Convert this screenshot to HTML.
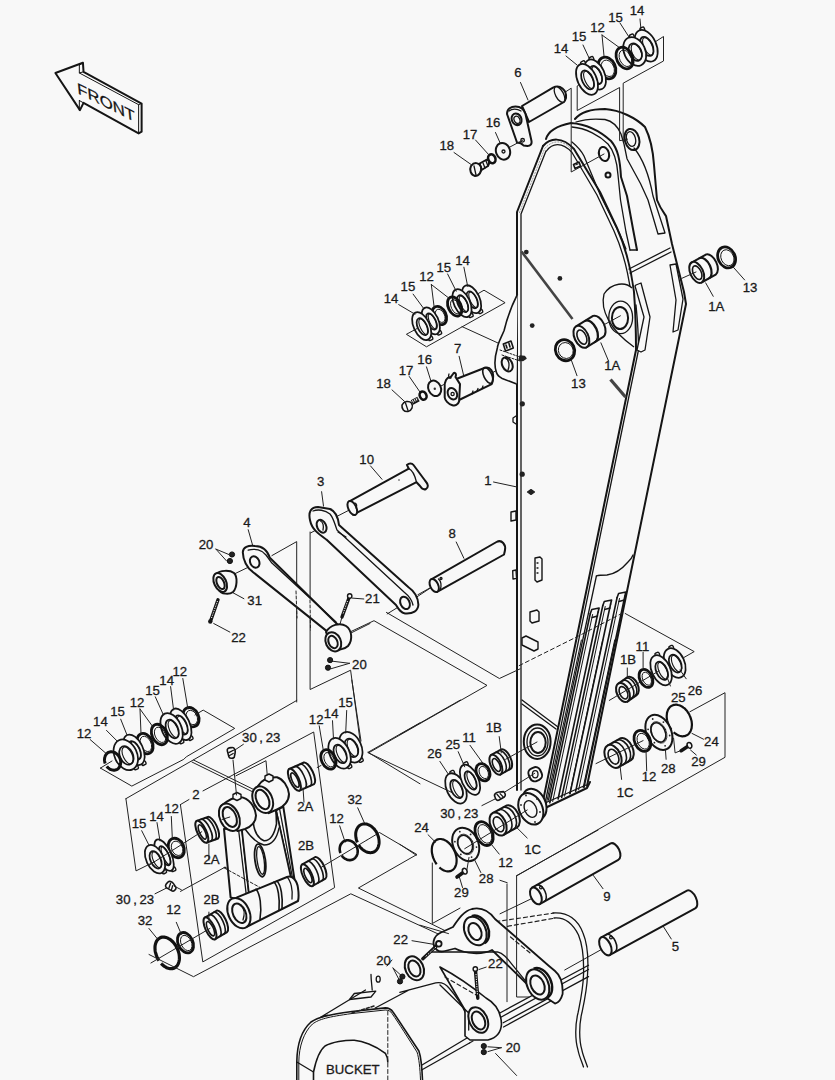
<!DOCTYPE html>
<html><head><meta charset="utf-8">
<style>
html,body{margin:0;padding:0;background:#f8f8f8;}
svg{display:block;}
svg *{vector-effect:non-scaling-stroke;}
.o{fill:none;stroke:#151515;stroke-width:2;stroke-linejoin:round;stroke-linecap:round;}
.t{fill:none;stroke:#222;stroke-width:1;stroke-linecap:round;}
.m{fill:none;stroke:#151515;stroke-width:1.3;stroke-linecap:round;stroke-linejoin:round;}
.w{fill:none;stroke:#fff;}
.f{fill:#f8f8f8;stroke:#151515;stroke-width:2;stroke-linejoin:round;}
.k{fill:none;stroke:#111;stroke-width:2.6;}
.lab text{font-family:"Liberation Sans",sans-serif;font-size:13.2px;fill:#1a1a1a;stroke:#1a1a1a;stroke-width:0.3;text-anchor:middle;}
</style></head><body>
<svg width="835" height="1080" viewBox="0 0 835 1080">
<rect width="835" height="1080" fill="#f8f8f8"/>
<g id="front">
<g transform="translate(50,55) scale(0.11976)">
<path class="f" d="M45,150 L275,65 L280,140 L765,405 L765,640 L740,655 L280,400 L250,460 Z"/>
<path class="o" d="M245,85 L245,150 L740,415 L740,655 M740,415 L765,405 M245,150 L280,140 M245,85 L275,65 M245,380 L245,460 M245,380 L280,400" style="stroke-width:1"/>
</g>
<text transform="matrix(1.29,0.65,0.12,1.2,77.8,93.2)" style="font-family:'Liberation Sans',sans-serif;font-size:13px;fill:#111;stroke:#111;stroke-width:0.3">FRONT</text>
</g>

<g id="boom">
<!-- left plate edges -->
<path class="o" d="M517,790 L517,212 L543,146"/>
<path class="m" d="M521,790 L521,214 L546,151"/>
<path d="M519.3,213 L544.7,148.5 C552,140 563,139 572,150" style="fill:none;stroke:#999;stroke-width:1;stroke-dasharray:2,1"/>
<!-- front face right edge (hat) -->
<path class="o" d="M543,146 C550,138 562,136 574,149 L600,192 L617,228 C625,246 631,268 634,292 C635.5,312 636,333 636,350 L542,806"/>
<path class="m" d="M546.5,151 C552,143 562,141.5 572,152.5 L597,195 L614,231 C622,249 628,270 631,294"/>
<path class="m" d="M636,305 C637.5,320 638.5,335 638.5,350 L544.5,806"/>
<!-- front ear top contour -->
<path class="o" d="M546,139 C548,132 556,126 571,123 C585,124 600,131 611,141 C618,149 620,160 621,177 L627,196 L633,229 L637,250"/>
<path class="m" d="M572,127 C586,128 600,136 608,144 C614,151 617,160 618,175 L620.5,200 L626,232 L630,250"/>
<path class="m" d="M572,142 C578,147 582,152 584,156 L600.6,195.8 L619.8,234.1 L626,249"/>
<path class="m" d="M630,250 L637,250"/>
<!-- rear ear -->
<path class="o" d="M575,119 C580,113 590,109 605,109 C620,110 636,118 645,127 C650,137 653,150 654,165 L657,200 C660,208 664,213 666,216 L672,244 L684,292 L686,304 L587,786"/>
<path class="m" d="M576,122 C585,119 595,118.5 605,119.5 C612,121 618,127 621,134 L624,144 L627,158.7 L640.6,183.8 L648,200 L658,234 M634,148 C644,160 650,180 653,196 L665,233 M658,234 L665,233"/>
<ellipse class="o" cx="632" cy="139.5" rx="7.2" ry="10.8" transform="rotate(-15 632 139.5)"/>
<ellipse class="m" cx="631" cy="139" rx="4.5" ry="7.5" transform="rotate(-15 631 139)"/>
<ellipse class="o" cx="604" cy="154" rx="5" ry="7.2" transform="rotate(-15 604 154)"/>
<circle class="o" cx="608" cy="175" r="2.5"/>
<!-- side face band -->
<path class="m" d="M629,269 L670,248 M630,273 L671,252"/>
<!-- 1A boss plate -->
<path class="f" style="stroke-width:1.3" d="M632,288 C626,282 612,282 604,294 C600,310 610,330 634,347"/>
<ellipse class="m" cx="620.7" cy="317.4" rx="11.9" ry="16.3"/>
<ellipse class="o" cx="620" cy="318" rx="8.1" ry="11.1"/>
<!-- side strips -->
<path class="f" style="stroke-width:1.3" d="M636,285 L641,283 L650,317 L645,350 L641,352 L637,350 L644,317 L635,286 Z"/>
<path class="f" style="stroke-width:1.3" d="M670,265 L676,264 L683,299 L678,330 L673,332 L676,300 Z"/>
<!-- cover plate curve and ribs -->
<path class="m" d="M596.4,576 C599,575 603,575 607,575 C615,574 622,569 628,562 C630,560 632,558 633,555"/>
<!-- bottom plate -->
<path class="o" d="M543,809 L587,788 L590,782"/>
<path class="m" d="M545,803 L586,785"/>
<!-- cross line -->
<path class="m" d="M522,700 L558,727 M522,704 L556,729"/>
<!-- 1B boss -->
<ellipse class="f" cx="537.2" cy="741.7" rx="13.4" ry="17.3"/>
<ellipse class="m" cx="537.5" cy="742" rx="10.5" ry="14"/>
<ellipse class="o" cx="538" cy="742.5" rx="7.7" ry="10.5"/>
<!-- small boss -->
<rect class="o" x="529" y="767.5" width="12.5" height="13.5" rx="5" transform="rotate(-25 535.2 774.3)"/><ellipse class="m" cx="535.2" cy="774.3" rx="2.8" ry="3.6"/>
<!-- bottom flange -->
<ellipse class="f" cx="534.5" cy="804" rx="11" ry="16" transform="rotate(-25 534.5 804)"/>
<ellipse class="f" cx="530.8" cy="808.8" rx="11.5" ry="16.5" transform="rotate(-25 530.8 808.8)"/>
<ellipse class="m" style="stroke-width:1.4" cx="530.5" cy="809" rx="5.8" ry="8.8" transform="rotate(-25 530.5 809)"/>
<circle cx="526" cy="795.5" r="0.9" fill="#222"/><circle cx="537" cy="799" r="0.9" fill="#222"/><circle cx="540" cy="812" r="0.9" fill="#222"/><circle cx="535" cy="822" r="0.9" fill="#222"/><circle cx="523" cy="818" r="0.9" fill="#222"/><circle cx="521" cy="805" r="0.9" fill="#222"/>
</g>

<g id="ribs">
<path class="o" style="stroke-width:1.6" d="M590.3,613.5 L549.8,802.8"/>
<path class="m" style="stroke-width:1.0" d="M592.6,614.5 L552.7,801.5"/>
<path class="o" style="stroke-width:1.6" d="M598.1,612.0 L558.1,799.0"/>
<path class="m" style="stroke-width:1.6" d="M590.3,613.5 L591.8,609.5 L599.1,608.0 L598.1,612.0"/>
<path class="m" d="M592.1,617.5 L597.6,616.0"/>
<path class="o" style="stroke-width:1.6" d="M602.8,605.5 L561.7,797.4"/>
<path class="m" style="stroke-width:1.0" d="M605.2,606.5 L564.6,796.1"/>
<path class="o" style="stroke-width:1.6" d="M610.6,604.0 L570.0,793.6"/>
<path class="m" style="stroke-width:1.6" d="M602.8,605.5 L604.3,601.5 L611.6,600.0 L610.6,604.0"/>
<path class="m" d="M604.6,609.5 L610.1,608.0"/>
<path class="o" style="stroke-width:1.6" d="M617.1,597.5 L575.7,791.1"/>
<path class="m" style="stroke-width:1.0" d="M619.5,598.5 L578.6,789.8"/>
<path class="o" style="stroke-width:1.6" d="M624.9,596.0 L584.0,787.3"/>
<path class="m" style="stroke-width:1.6" d="M617.1,597.5 L618.6,593.5 L625.9,592.0 L624.9,596.0"/>
<path class="m" d="M618.9,601.5 L624.4,600.0"/>
<path class="m" style="stroke-width:1.0" d="M581.4,640.0 L546.2,804.4"/>
<path class="m" style="stroke-width:1.0" d="M602.7,640.0 L569.8,793.7"/>
<path class="m" style="stroke-width:1.0" d="M614.7,640.0 L583.1,787.7"/>
<path class="m" d="M596.4,576 L548.5,800"/>
</g>

<g id="top">
<!-- bracket lines -->
<path class="t" d="M565.7,91.8 L571.2,88.2 L571.2,172 L604,154"/>
<path class="t" d="M585,80.3 L577.2,86 L577.2,110.5 L619.6,87.5 L619.6,140.7 L627.5,139.2 M623.2,140.7 L623.2,83.2 L663.5,61 L663.5,36.5 L655,42"/>
<path class="t" d="M578.7,84.6 L586.6,80.3"/>
<!-- part 6 pin -->
<path class="f" d="M522,106 L553,87.6 C560,84 567,90 566,98 C565,101 564,102 564,102 L529,122 Z"/>
<ellipse class="m" cx="559.5" cy="94.5" rx="4" ry="8.5" transform="rotate(-28 559.5 94.5)" style="fill:#f8f8f8"/>
<path class="f" d="M507,114 C507,109 511,106.5 515.5,106.5 C520,106.5 524,109 525.5,114 L531.5,141 C532,144 530.5,146 527.5,146 L523.5,145.5 C522,143.5 520,142.5 517,142.5 Z"/>
<path class="m" d="M509,111 C512,108.5 517,108.5 521,111"/>
<ellipse class="o" cx="516.6" cy="119.3" rx="4.8" ry="6" transform="rotate(-25 516.6 119.3)"/>
<ellipse class="m" cx="517" cy="119.8" rx="2.8" ry="3.8" transform="rotate(-25 517 119.8)"/>
<circle class="m" cx="522.6" cy="140.3" r="1.8"/>
<!-- 16 17 18 -->
<path class="t" d="M509,147.5 L522.6,140.3"/>
<ellipse class="f" cx="503" cy="151.3" rx="7" ry="8.5" transform="rotate(-20 503 151.3)"/>
<circle class="m" cx="503.5" cy="151.5" r="1.5"/>
<ellipse class="k" cx="491.8" cy="158.8" rx="3.6" ry="4.6" transform="rotate(-20 491.8 158.8)" style="stroke-width:2.6"/>
<path class="f" d="M477,165 L486,160 C489,159 490,163 488,166 L480,171 Z"/>
<path class="m" d="M480,164 L482,169 M483,163 L485,168 M486,161 L488,166"/>
<path class="f" d="M471,166 C474,162 479,162 481,167 C482,172 479,176 475,176 C471,175 469,170 471,166 Z"/>
<path class="m" d="M474,166 L476,175"/>
<!-- leaders -->
<path class="t" d="M454,152.5 L471.8,165 M475.5,140 L489,155 M495.5,132.5 L500.5,143.8 M520.5,82.5 L528,100"/>
<path class="t" d="M566,56 L577,65 M583,45 L590,60 M602,35 L604,56 M602,35 L620,48 M620,23 L629,37 M640,19 L641,30"/>
</g>

<g id="rings">
<g transform="rotate(-25 642.8 30.3)"><rect class="f" style="stroke-width:1.4" x="640.6" y="27.3" width="4.4" height="3.8" rx="1.2"/></g>
<ellipse class="f" cx="646.2" cy="45.8" rx="10.0" ry="16.8" transform="rotate(-25 646.2 45.8)" style="stroke-width:1.75"/>
<ellipse class="o" cx="646.8" cy="46.4" rx="5.8" ry="10.2" transform="rotate(-25 646.8 46.4)" style="stroke-width:1.75"/>
<ellipse class="m" cx="648.0" cy="46.4" rx="4.1" ry="9.5" transform="rotate(-25 648.0 46.4)" style="stroke-width:1.1"/>
<g transform="rotate(-25 632.2 37.3)"><rect class="f" style="stroke-width:1.4" x="630.0" y="34.3" width="4.4" height="3.8" rx="1.2"/></g>
<ellipse class="f" cx="634.7" cy="51.5" rx="10.6" ry="15.1" transform="rotate(-25 634.7 51.5)" style="stroke-width:1.75"/>
<ellipse class="o" cx="635.3" cy="52.1" rx="6.1" ry="9.2" transform="rotate(-25 635.3 52.1)" style="stroke-width:1.75"/>
<ellipse class="m" cx="636.5" cy="52.1" rx="4.3" ry="8.6" transform="rotate(-25 636.5 52.1)" style="stroke-width:1.1"/>
<ellipse class="k" cx="624.6" cy="58.0" rx="7.9" ry="11.3" transform="rotate(-25 624.6 58.0)" style="stroke-width:2.8"/>
<ellipse class="m" cx="625.4" cy="58.3" rx="5.7" ry="8.7" transform="rotate(-25 625.4 58.3)" style="stroke-width:1"/>
<ellipse class="k" cx="607.0" cy="68.0" rx="8.4" ry="11.2" transform="rotate(-25 607.0 68.0)" style="stroke-width:2.8"/>
<ellipse class="m" cx="607.8" cy="68.3" rx="6.2" ry="8.6" transform="rotate(-25 607.8 68.3)" style="stroke-width:1"/>
<g transform="rotate(-25 591.9 59.8)"><rect class="f" style="stroke-width:1.4" x="589.7" y="56.8" width="4.4" height="3.8" rx="1.2"/></g>
<ellipse class="f" cx="595.2" cy="74.5" rx="9.3" ry="16.0" transform="rotate(-25 595.2 74.5)" style="stroke-width:1.75"/>
<ellipse class="o" cx="595.8" cy="75.1" rx="5.4" ry="9.7" transform="rotate(-25 595.8 75.1)" style="stroke-width:1.75"/>
<ellipse class="m" cx="597.0" cy="75.1" rx="3.8" ry="9.1" transform="rotate(-25 597.0 75.1)" style="stroke-width:1.1"/>
<g transform="rotate(-25 583.5 64.1)"><rect class="f" style="stroke-width:1.4" x="581.3" y="61.1" width="4.4" height="3.8" rx="1.2"/></g>
<ellipse class="f" cx="587.0" cy="79.3" rx="9.4" ry="16.5" transform="rotate(-25 587.0 79.3)" style="stroke-width:1.75"/>
<ellipse class="o" cx="587.6" cy="79.9" rx="5.4" ry="10.1" transform="rotate(-25 587.6 79.9)" style="stroke-width:1.75"/>
<ellipse class="m" cx="588.8" cy="79.9" rx="3.8" ry="9.4" transform="rotate(-25 588.8 79.9)" style="stroke-width:1.1"/>
<g transform="rotate(-25 479.9 310.4)"><rect class="f" style="stroke-width:1.4" x="477.7" y="309.6" width="4.4" height="3.8" rx="1.2"/></g>
<ellipse class="f" cx="471.6" cy="299.2" rx="8.0" ry="14.9" transform="rotate(-25 471.6 299.2)" style="stroke-width:1.75"/>
<ellipse class="o" cx="472.2" cy="299.8" rx="4.6" ry="9.1" transform="rotate(-25 472.2 299.8)" style="stroke-width:1.75"/>
<ellipse class="m" cx="473.4" cy="299.8" rx="3.3" ry="8.5" transform="rotate(-25 473.4 299.8)" style="stroke-width:1.1"/>
<g transform="rotate(-25 470.3 314.3)"><rect class="f" style="stroke-width:1.4" x="468.1" y="313.5" width="4.4" height="3.8" rx="1.2"/></g>
<ellipse class="f" cx="462.0" cy="303.1" rx="8.0" ry="14.9" transform="rotate(-25 462.0 303.1)" style="stroke-width:1.75"/>
<ellipse class="o" cx="462.6" cy="303.7" rx="4.6" ry="9.1" transform="rotate(-25 462.6 303.7)" style="stroke-width:1.75"/>
<ellipse class="m" cx="463.8" cy="303.7" rx="3.3" ry="8.5" transform="rotate(-25 463.8 303.7)" style="stroke-width:1.1"/>
<ellipse class="k" cx="454.7" cy="306.5" rx="6.4" ry="10.2" transform="rotate(-25 454.7 306.5)" style="stroke-width:2.8"/>
<ellipse class="m" cx="455.5" cy="306.8" rx="4.2" ry="7.6" transform="rotate(-25 455.5 306.8)" style="stroke-width:1"/>
<ellipse class="k" cx="439.4" cy="315.5" rx="6.6" ry="9.6" transform="rotate(-25 439.4 315.5)" style="stroke-width:2.8"/>
<ellipse class="m" cx="440.2" cy="315.8" rx="4.4" ry="7.0" transform="rotate(-25 440.2 315.8)" style="stroke-width:1"/>
<g transform="rotate(-25 438.8 331.8)"><rect class="f" style="stroke-width:1.4" x="436.6" y="331.0" width="4.4" height="3.8" rx="1.2"/></g>
<ellipse class="f" cx="430.8" cy="320.9" rx="7.5" ry="14.4" transform="rotate(-25 430.8 320.9)" style="stroke-width:1.75"/>
<ellipse class="o" cx="431.4" cy="321.5" rx="4.3" ry="8.8" transform="rotate(-25 431.4 321.5)" style="stroke-width:1.75"/>
<ellipse class="m" cx="432.6" cy="321.5" rx="3.0" ry="8.2" transform="rotate(-25 432.6 321.5)" style="stroke-width:1.1"/>
<g transform="rotate(-25 430.0 337.3)"><rect class="f" style="stroke-width:1.4" x="427.8" y="336.5" width="4.4" height="3.8" rx="1.2"/></g>
<ellipse class="f" cx="421.7" cy="326.1" rx="8.0" ry="14.9" transform="rotate(-25 421.7 326.1)" style="stroke-width:1.75"/>
<ellipse class="o" cx="422.3" cy="326.7" rx="4.6" ry="9.1" transform="rotate(-25 422.3 326.7)" style="stroke-width:1.75"/>
<ellipse class="m" cx="423.5" cy="326.7" rx="3.3" ry="8.5" transform="rotate(-25 423.5 326.7)" style="stroke-width:1.1"/>
<ellipse class="k" cx="191.0" cy="717.2" rx="7.6" ry="10.1" transform="rotate(-25 191.0 717.2)" style="stroke-width:2.8"/>
<ellipse class="m" cx="191.8" cy="717.5" rx="5.4" ry="7.5" transform="rotate(-25 191.8 717.5)" style="stroke-width:1"/>
<g transform="rotate(-25 190.2 737.1)"><rect class="f" style="stroke-width:1.4" x="188.0" y="736.3" width="4.4" height="3.8" rx="1.2"/></g>
<ellipse class="f" cx="180.8" cy="724.3" rx="8.8" ry="16.9" transform="rotate(-25 180.8 724.3)" style="stroke-width:1.75"/>
<ellipse class="o" cx="181.4" cy="724.9" rx="5.1" ry="10.3" transform="rotate(-25 181.4 724.9)" style="stroke-width:1.75"/>
<ellipse class="m" cx="182.6" cy="724.9" rx="3.6" ry="9.6" transform="rotate(-25 182.6 724.9)" style="stroke-width:1.1"/>
<g transform="rotate(-25 181.0 740.5)"><rect class="f" style="stroke-width:1.4" x="178.8" y="739.7" width="4.4" height="3.8" rx="1.2"/></g>
<ellipse class="f" cx="171.6" cy="728.4" rx="9.8" ry="16.3" transform="rotate(-25 171.6 728.4)" style="stroke-width:1.75"/>
<ellipse class="o" cx="172.2" cy="729.0" rx="5.7" ry="9.9" transform="rotate(-25 172.2 729.0)" style="stroke-width:1.75"/>
<ellipse class="m" cx="173.4" cy="729.0" rx="4.0" ry="9.2" transform="rotate(-25 173.4 729.0)" style="stroke-width:1.1"/>
<ellipse class="k" cx="159.4" cy="734.5" rx="7.4" ry="10.7" transform="rotate(-25 159.4 734.5)" style="stroke-width:2.8"/>
<ellipse class="m" cx="160.2" cy="734.8" rx="5.2" ry="8.1" transform="rotate(-25 160.2 734.8)" style="stroke-width:1"/>
<ellipse class="k" cx="145.1" cy="743.6" rx="7.4" ry="10.7" transform="rotate(-25 145.1 743.6)" style="stroke-width:2.8"/>
<ellipse class="m" cx="145.9" cy="743.9" rx="5.2" ry="8.1" transform="rotate(-25 145.9 743.9)" style="stroke-width:1"/>
<g transform="rotate(-25 143.2 762.1)"><rect class="f" style="stroke-width:1.4" x="141.0" y="761.3" width="4.4" height="3.8" rx="1.2"/></g>
<ellipse class="f" cx="134.0" cy="749.8" rx="9.0" ry="16.3" transform="rotate(-25 134.0 749.8)" style="stroke-width:1.75"/>
<ellipse class="o" cx="134.6" cy="750.4" rx="5.2" ry="10.0" transform="rotate(-25 134.6 750.4)" style="stroke-width:1.75"/>
<ellipse class="m" cx="135.8" cy="750.4" rx="3.7" ry="9.3" transform="rotate(-25 135.8 750.4)" style="stroke-width:1.1"/>
<g transform="rotate(-25 135.6 766.5)"><rect class="f" style="stroke-width:1.4" x="133.4" y="765.7" width="4.4" height="3.8" rx="1.2"/></g>
<ellipse class="f" cx="125.8" cy="754.8" rx="11.2" ry="16.1" transform="rotate(-25 125.8 754.8)" style="stroke-width:1.75"/>
<ellipse class="o" cx="126.4" cy="755.4" rx="6.5" ry="9.8" transform="rotate(-25 126.4 755.4)" style="stroke-width:1.75"/>
<ellipse class="m" cx="127.6" cy="755.4" rx="4.5" ry="9.1" transform="rotate(-25 127.6 755.4)" style="stroke-width:1.1"/>
<path class="k" style="stroke-width:3.0" d="M105.2,763.5 L105.0,762.9 L104.8,762.3 L104.7,761.6 L104.6,761.0 L104.5,760.3 L104.5,759.7 L104.5,759.1 L104.6,758.4 L104.7,757.8 L104.8,757.2 L105.0,756.7 L105.2,756.1 L105.4,755.6 L105.7,755.1 L106.0,754.6 L106.3,754.2 L106.7,753.7 L107.1,753.4 L107.5,753.0 L108.0,752.7 L108.5,752.5 L109.0,752.2 L109.5,752.1 L110.0,751.9 L110.6,751.8 L111.1,751.8 L111.7,751.8 L112.2,751.9 L112.8,751.9 L113.4,752.1 L113.9,752.3 L114.5,752.5 L115.0,752.7 L115.5,753.0 L116.1,753.4 L116.6,753.8 L117.1,754.2 L117.5,754.6 L118.0,755.1 L118.4,755.6 L118.7,756.1 L119.1,756.7 L119.4,757.3 L119.7,757.9 L120.0,758.5 L120.2,759.1 L120.4,759.7 L120.5,760.4 L120.6,761.0 L120.7,761.7 L120.7,762.3 L120.7,762.9 L120.6,763.6 L120.5,764.2 L120.4,764.8 L120.2,765.3 L120.0,765.9 L119.8,766.4 L119.5,766.9 L119.2,767.4 L118.9,767.8 L118.5,768.3 L118.1,768.6 L117.7,769.0 L117.2,769.3 L116.7,769.5 L116.2,769.8 L115.7,769.9 L115.2,770.1 L114.6,770.2 L114.1,770.2 L113.5,770.2 L113.0,770.1 L112.4,770.1 L111.8,769.9 L111.3,769.7 L110.7,769.5 L110.2,769.3 L109.7,769.0 L109.1,768.6 L108.6,768.2 L108.1,767.8 L107.7,767.4 L107.2,766.9 L106.8,766.4"/>
<g transform="rotate(-25 360.4 759.1)"><rect class="f" style="stroke-width:1.4" x="358.2" y="758.3" width="4.4" height="3.8" rx="1.2"/></g>
<ellipse class="f" cx="350.8" cy="747.2" rx="10.5" ry="16.2" transform="rotate(-25 350.8 747.2)" style="stroke-width:1.75"/>
<ellipse class="o" cx="351.4" cy="747.8" rx="6.1" ry="9.8" transform="rotate(-25 351.4 747.8)" style="stroke-width:1.75"/>
<ellipse class="m" cx="352.6" cy="747.8" rx="4.3" ry="9.2" transform="rotate(-25 352.6 747.8)" style="stroke-width:1.1"/>
<g transform="rotate(-25 349.0 765.4)"><rect class="f" style="stroke-width:1.4" x="346.8" y="764.6" width="4.4" height="3.8" rx="1.2"/></g>
<ellipse class="f" cx="339.6" cy="753.3" rx="9.8" ry="16.3" transform="rotate(-25 339.6 753.3)" style="stroke-width:1.75"/>
<ellipse class="o" cx="340.2" cy="753.9" rx="5.7" ry="9.9" transform="rotate(-25 340.2 753.9)" style="stroke-width:1.75"/>
<ellipse class="m" cx="341.4" cy="753.9" rx="4.0" ry="9.2" transform="rotate(-25 341.4 753.9)" style="stroke-width:1.1"/>
<ellipse class="k" cx="328.4" cy="759.4" rx="6.9" ry="10.2" transform="rotate(-25 328.4 759.4)" style="stroke-width:2.8"/>
<ellipse class="m" cx="329.2" cy="759.7" rx="4.7" ry="7.6" transform="rotate(-25 329.2 759.7)" style="stroke-width:1"/>
<ellipse class="k" cx="176.3" cy="848.0" rx="7.6" ry="10.1" transform="rotate(-25 176.3 848.0)" style="stroke-width:2.8"/>
<ellipse class="m" cx="177.1" cy="848.3" rx="5.4" ry="7.5" transform="rotate(-25 177.1 848.3)" style="stroke-width:1"/>
<g transform="rotate(-25 173.0 868.3)"><rect class="f" style="stroke-width:1.4" x="170.8" y="867.5" width="4.4" height="3.8" rx="1.2"/></g>
<ellipse class="f" cx="164.1" cy="855.1" rx="7.1" ry="17.1" transform="rotate(-25 164.1 855.1)" style="stroke-width:1.75"/>
<ellipse class="o" cx="164.7" cy="855.7" rx="4.1" ry="10.4" transform="rotate(-25 164.7 855.7)" style="stroke-width:1.75"/>
<ellipse class="m" cx="165.9" cy="855.7" rx="2.9" ry="9.7" transform="rotate(-25 165.9 855.7)" style="stroke-width:1.1"/>
<g transform="rotate(-25 163.7 870.6)"><rect class="f" style="stroke-width:1.4" x="161.5" y="869.8" width="4.4" height="3.8" rx="1.2"/></g>
<ellipse class="f" cx="155.0" cy="859.2" rx="8.7" ry="15.2" transform="rotate(-25 155.0 859.2)" style="stroke-width:1.75"/>
<ellipse class="o" cx="155.6" cy="859.8" rx="5.1" ry="9.3" transform="rotate(-25 155.6 859.8)" style="stroke-width:1.75"/>
<ellipse class="m" cx="156.8" cy="859.8" rx="3.5" ry="8.7" transform="rotate(-25 156.8 859.8)" style="stroke-width:1.1"/>
<ellipse class="k" cx="185.5" cy="942.7" rx="7.4" ry="10.7" transform="rotate(-25 185.5 942.7)" style="stroke-width:2.8"/>
<ellipse class="m" cx="186.3" cy="943.0" rx="5.2" ry="8.1" transform="rotate(-25 186.3 943.0)" style="stroke-width:1"/>
<path class="k" style="stroke-width:3.2" d="M158.9,960.6 L158.3,959.6 L157.8,958.6 L157.2,957.5 L156.8,956.5 L156.4,955.4 L156.0,954.3 L155.7,953.2 L155.4,952.1 L155.2,951.0 L155.1,949.9 L155.0,948.8 L155.0,947.8 L155.0,946.8 L155.1,945.8 L155.3,944.8 L155.5,943.9 L155.8,943.0 L156.1,942.1 L156.5,941.4 L156.9,940.6 L157.4,940.0 L158.0,939.4 L158.5,938.8 L159.2,938.4 L159.8,938.0 L160.5,937.6 L161.2,937.4 L162.0,937.2 L162.8,937.1 L163.6,937.1 L164.4,937.2 L165.2,937.3 L166.1,937.5 L166.9,937.8 L167.8,938.1 L168.6,938.6 L169.5,939.1 L170.3,939.6 L171.1,940.3 L171.9,941.0 L172.7,941.7 L173.4,942.5 L174.2,943.4 L174.8,944.3 L175.5,945.2 L176.1,946.2 L176.6,947.2 L177.2,948.3 L177.6,949.3 L178.0,950.4 L178.4,951.5 L178.7,952.6 L179.0,953.7 L179.2,954.8 L179.3,955.9 L179.4,957.0 L179.4,958.0 L179.4,959.0 L179.3,960.0 L179.1,961.0 L178.9,961.9 L178.6,962.8 L178.3,963.7 L177.9,964.4 L177.5,965.2 L177.0,965.8 L176.4,966.4 L175.9,967.0 L175.2,967.4 L174.6,967.8 L173.9,968.2 L173.2,968.4 L172.4,968.6 L171.6,968.7 L170.8,968.7 L170.0,968.6 L169.2,968.5 L168.3,968.3 L167.5,968.0 L166.6,967.7 L165.8,967.2 L164.9,966.7 L164.1,966.2 L163.3,965.5 L162.5,964.8 L161.7,964.1 L161.1,963.5"/>
<g transform="rotate(-25 671.7 648.6)"><rect class="f" style="stroke-width:1.4" x="669.5" y="645.6" width="4.4" height="3.8" rx="1.2"/></g>
<ellipse class="f" cx="674.7" cy="663.0" rx="9.7" ry="15.6" transform="rotate(-25 674.7 663.0)" style="stroke-width:1.75"/>
<ellipse class="o" cx="675.3" cy="663.6" rx="5.6" ry="9.5" transform="rotate(-25 675.3 663.6)" style="stroke-width:1.75"/>
<ellipse class="m" cx="676.5" cy="663.6" rx="3.9" ry="8.9" transform="rotate(-25 676.5 663.6)" style="stroke-width:1.1"/>
<g transform="rotate(-25 657.8 655.5)"><rect class="f" style="stroke-width:1.4" x="655.6" y="652.5" width="4.4" height="3.8" rx="1.2"/></g>
<ellipse class="f" cx="661.1" cy="670.2" rx="9.3" ry="16.0" transform="rotate(-25 661.1 670.2)" style="stroke-width:1.75"/>
<ellipse class="o" cx="661.7" cy="670.8" rx="5.4" ry="9.7" transform="rotate(-25 661.7 670.8)" style="stroke-width:1.75"/>
<ellipse class="m" cx="662.9" cy="670.8" rx="3.8" ry="9.1" transform="rotate(-25 662.9 670.8)" style="stroke-width:1.1"/>
<ellipse class="k" cx="646.0" cy="678.4" rx="6.3" ry="9.5" transform="rotate(-25 646.0 678.4)" style="stroke-width:2.8"/>
<ellipse class="m" cx="646.8" cy="678.7" rx="4.1" ry="6.9" transform="rotate(-25 646.8 678.7)" style="stroke-width:1"/>
<path class="f" d="M618.7,683.4 L628.0,676.9 A6.1,10.1 -25 0 1 636.6,695.1 L627.3,701.6 Z"/>
<path class="m" style="stroke-width:1.6" d="M622.9,680.4 A6.1,10.1 -25 0 1 631.4,698.7"/>
<path class="m" style="stroke-width:1.6" d="M626.2,678.2 A6.1,10.1 -25 0 1 634.7,696.4"/>
<ellipse class="f" cx="623.0" cy="692.5" rx="6.1" ry="10.1" transform="rotate(-25 623.0 692.5)"/>
<ellipse class="m" cx="623.5" cy="692.8" rx="3.8" ry="6.6" transform="rotate(-25 623.5 692.8)" style="stroke-width:1.6"/>
<path class="k" style="stroke-width:2.2" d="M671.3,729.6 L670.7,728.6 L670.1,727.7 L669.5,726.7 L669.0,725.6 L668.5,724.6 L668.1,723.5 L667.7,722.4 L667.4,721.3 L667.1,720.2 L666.9,719.1 L666.8,718.0 L666.7,716.9 L666.7,715.9 L666.8,714.8 L666.9,713.8 L667.0,712.8 L667.3,711.9 L667.6,711.0 L667.9,710.1 L668.3,709.3 L668.8,708.6 L669.3,707.9 L669.8,707.2 L670.4,706.7 L671.1,706.2 L671.8,705.7 L672.5,705.4 L673.2,705.1 L674.0,704.9 L674.8,704.8 L675.7,704.7 L676.5,704.7 L677.4,704.8 L678.2,705.0 L679.1,705.2 L680.0,705.6 L680.9,706.0 L681.8,706.4 L682.6,707.0 L683.4,707.6 L684.3,708.2 L685.1,708.9 L685.8,709.7 L686.6,710.6 L687.3,711.4 L687.9,712.4 L688.5,713.3 L689.1,714.3 L689.6,715.4 L690.1,716.4 L690.5,717.5 L690.9,718.6 L691.2,719.7 L691.5,720.8 L691.7,721.9 L691.8,723.0 L691.9,724.1 L691.9,725.1 L691.8,726.2 L691.7,727.2 L691.6,728.2 L691.3,729.1 L691.0,730.0 L690.7,730.9 L690.3,731.7 L689.8,732.4 L689.3,733.1 L688.8,733.8 L688.2,734.3 L687.5,734.8 L686.8,735.3 L686.1,735.6 L685.4,735.9 L684.6,736.1 L683.8,736.2 L682.9,736.3 L682.1,736.3 L681.2,736.2 L680.4,736.0 L679.5,735.8 L678.6,735.4 L677.7,735.0 L676.8,734.6 L676.0,734.0 L675.2,733.4 L674.3,732.8 L673.7,732.2"/>
<ellipse class="f" cx="658.9" cy="732.4" rx="12.2" ry="18.5" transform="rotate(-25 658.9 732.4)"/>
<ellipse class="m" cx="658.4" cy="732.4" rx="6.7" ry="10.2" transform="rotate(-25 658.4 732.4)" style="stroke-width:1.6"/>
<ellipse class="m" cx="658.7" cy="732.4" rx="7.5" ry="11.4" transform="rotate(-25 658.7 732.4)" style="stroke-width:0.8"/>
<circle cx="669.7" cy="735.5" r="0.9" fill="#222"/>
<circle cx="665.1" cy="745.8" r="0.9" fill="#222"/>
<circle cx="654.4" cy="742.7" r="0.9" fill="#222"/>
<circle cx="648.1" cy="729.3" r="0.9" fill="#222"/>
<circle cx="652.7" cy="719.0" r="0.9" fill="#222"/>
<circle cx="663.4" cy="722.1" r="0.9" fill="#222"/>
<ellipse class="k" cx="642.4" cy="740.9" rx="7.8" ry="10.9" transform="rotate(-25 642.4 740.9)" style="stroke-width:2.8"/>
<ellipse class="m" cx="643.2" cy="741.2" rx="5.6" ry="8.3" transform="rotate(-25 643.2 741.2)" style="stroke-width:1"/>
<path class="f" d="M607.9,745.4 L620.8,738.2 A7.6,12.2 -25 0 1 631.0,760.2 L618.1,767.4 Z"/>
<path class="m" style="stroke-width:1.6" d="M613.0,742.5 A7.6,12.2 -25 0 1 623.3,764.6"/>
<path class="m" style="stroke-width:1.6" d="M617.5,740.0 A7.6,12.2 -25 0 1 627.8,762.0"/>
<ellipse class="f" cx="613.0" cy="756.4" rx="7.6" ry="12.2" transform="rotate(-25 613.0 756.4)"/>
<ellipse class="m" cx="613.5" cy="756.7" rx="4.7" ry="7.9" transform="rotate(-25 613.5 756.7)" style="stroke-width:1.6"/>
<g transform="rotate(-25 452.7 773.6)"><rect class="f" style="stroke-width:1.4" x="450.5" y="770.6" width="4.4" height="3.8" rx="1.2"/></g>
<ellipse class="f" cx="456.0" cy="788.4" rx="9.3" ry="16.1" transform="rotate(-25 456.0 788.4)" style="stroke-width:1.75"/>
<ellipse class="o" cx="456.6" cy="789.0" rx="5.4" ry="9.8" transform="rotate(-25 456.6 789.0)" style="stroke-width:1.75"/>
<ellipse class="m" cx="457.8" cy="789.0" rx="3.8" ry="9.1" transform="rotate(-25 457.8 789.0)" style="stroke-width:1.1"/>
<g transform="rotate(-25 466.3 765.1)"><rect class="f" style="stroke-width:1.4" x="464.1" y="762.1" width="4.4" height="3.8" rx="1.2"/></g>
<ellipse class="f" cx="470.0" cy="779.8" rx="8.3" ry="16.2" transform="rotate(-25 470.0 779.8)" style="stroke-width:1.75"/>
<ellipse class="o" cx="470.6" cy="780.4" rx="4.8" ry="9.9" transform="rotate(-25 470.6 780.4)" style="stroke-width:1.75"/>
<ellipse class="m" cx="471.8" cy="780.4" rx="3.4" ry="9.2" transform="rotate(-25 471.8 780.4)" style="stroke-width:1.1"/>
<ellipse class="k" cx="483.0" cy="772.2" rx="6.5" ry="9.0" transform="rotate(-25 483.0 772.2)" style="stroke-width:2.8"/>
<ellipse class="m" cx="483.8" cy="772.5" rx="4.3" ry="6.4" transform="rotate(-25 483.8 772.5)" style="stroke-width:1"/>
<path class="f" d="M491.3,754.9 L501.0,749.5 A5.1,10.8 -25 0 1 510.2,769.1 L500.5,774.5 Z"/>
<path class="m" style="stroke-width:1.6" d="M495.7,752.5 A5.1,10.8 -25 0 1 504.8,772.0"/>
<path class="m" style="stroke-width:1.6" d="M499.1,750.6 A5.1,10.8 -25 0 1 508.2,770.1"/>
<ellipse class="f" cx="495.9" cy="764.7" rx="5.1" ry="10.8" transform="rotate(-25 495.9 764.7)"/>
<ellipse class="m" cx="496.4" cy="765.0" rx="3.2" ry="7.0" transform="rotate(-25 496.4 765.0)" style="stroke-width:1.6"/>
<path class="k" style="stroke-width:2.2" d="M436.7,864.2 L436.0,863.3 L435.4,862.3 L434.8,861.2 L434.3,860.2 L433.8,859.1 L433.3,858.0 L432.9,856.9 L432.6,855.7 L432.3,854.6 L432.1,853.5 L431.9,852.3 L431.8,851.2 L431.8,850.2 L431.8,849.1 L431.9,848.1 L432.0,847.1 L432.2,846.1 L432.5,845.2 L432.8,844.3 L433.2,843.5 L433.6,842.8 L434.1,842.1 L434.6,841.4 L435.2,840.9 L435.8,840.4 L436.5,840.0 L437.1,839.6 L437.9,839.3 L438.6,839.2 L439.4,839.0 L440.2,839.0 L441.1,839.0 L441.9,839.2 L442.8,839.4 L443.6,839.6 L444.5,840.0 L445.4,840.4 L446.2,840.9 L447.1,841.5 L447.9,842.1 L448.7,842.8 L449.5,843.6 L450.3,844.4 L451.0,845.3 L451.7,846.2 L452.4,847.1 L453.0,848.1 L453.6,849.2 L454.1,850.2 L454.6,851.3 L455.1,852.4 L455.5,853.5 L455.8,854.7 L456.1,855.8 L456.3,856.9 L456.5,858.1 L456.6,859.2 L456.6,860.2 L456.6,861.3 L456.5,862.3 L456.4,863.3 L456.2,864.3 L455.9,865.2 L455.6,866.1 L455.2,866.9 L454.8,867.6 L454.3,868.3 L453.8,869.0 L453.2,869.5 L452.6,870.0 L451.9,870.4 L451.3,870.8 L450.5,871.1 L449.8,871.2 L449.0,871.4 L448.2,871.4 L447.3,871.4 L446.5,871.2 L445.6,871.0 L444.8,870.8 L443.9,870.4 L443.0,870.0 L442.2,869.5 L441.3,868.9 L440.5,868.3 L439.7,867.6 L439.5,867.4"/>
<ellipse class="f" cx="465.7" cy="844.4" rx="12.5" ry="17.5" transform="rotate(-25 465.7 844.4)"/>
<ellipse class="m" cx="465.2" cy="844.4" rx="6.9" ry="9.6" transform="rotate(-25 465.2 844.4)" style="stroke-width:1.6"/>
<ellipse class="m" cx="465.5" cy="844.4" rx="7.7" ry="10.8" transform="rotate(-25 465.5 844.4)" style="stroke-width:0.8"/>
<circle cx="476.5" cy="847.1" r="0.9" fill="#222"/>
<circle cx="471.6" cy="857.1" r="0.9" fill="#222"/>
<circle cx="460.8" cy="854.4" r="0.9" fill="#222"/>
<circle cx="454.9" cy="841.7" r="0.9" fill="#222"/>
<circle cx="459.8" cy="831.7" r="0.9" fill="#222"/>
<circle cx="470.6" cy="834.4" r="0.9" fill="#222"/>
<ellipse class="k" cx="484.1" cy="833.6" rx="8.3" ry="12.5" transform="rotate(-25 484.1 833.6)" style="stroke-width:2.8"/>
<ellipse class="m" cx="484.9" cy="833.9" rx="6.1" ry="9.9" transform="rotate(-25 484.9 833.9)" style="stroke-width:1"/>
<path class="f" d="M493.0,813.0 L506.9,805.4 A7.6,12.2 -25 0 1 517.1,827.4 L503.2,835.0 Z"/>
<path class="m" style="stroke-width:1.6" d="M498.5,809.9 A7.6,12.2 -25 0 1 508.8,832.0"/>
<path class="m" style="stroke-width:1.6" d="M503.4,807.3 A7.6,12.2 -25 0 1 513.7,829.3"/>
<ellipse class="f" cx="498.1" cy="824.0" rx="7.6" ry="12.2" transform="rotate(-25 498.1 824.0)"/>
<ellipse class="m" cx="498.6" cy="824.3" rx="4.7" ry="7.9" transform="rotate(-25 498.6 824.3)" style="stroke-width:1.6"/>
<ellipse class="k" cx="726.6" cy="257.4" rx="8.5" ry="10.9" transform="rotate(-25 726.6 257.4)" style="stroke-width:2.8"/>
<ellipse class="m" cx="727.4" cy="257.7" rx="6.3" ry="8.3" transform="rotate(-25 727.4 257.7)" style="stroke-width:1"/>
<path class="f" d="M692.0,262.3 L706.3,254.4 A6.4,11.2 -25 0 1 715.7,274.6 L701.4,282.5 Z"/>
<path class="m" style="stroke-width:1.6" d="M699.1,258.3 A6.4,11.2 -25 0 1 708.6,278.6"/>
<path class="m" style="stroke-width:1.6" d="M700.0,257.8 A6.4,11.2 -25 0 1 709.4,278.1"/>
<ellipse class="f" cx="696.7" cy="272.4" rx="6.4" ry="11.2" transform="rotate(-25 696.7 272.4)"/>
<ellipse class="m" cx="697.2" cy="272.7" rx="4.0" ry="7.3" transform="rotate(-25 697.2 272.7)" style="stroke-width:1.6"/>
<ellipse class="k" cx="565.0" cy="350.2" rx="9.5" ry="10.7" transform="rotate(-25 565.0 350.2)" style="stroke-width:2.8"/>
<ellipse class="m" cx="565.8" cy="350.5" rx="7.3" ry="8.1" transform="rotate(-25 565.8 350.5)" style="stroke-width:1"/>
<path class="f" d="M576.5,326.2 L593.1,315.9 A6.9,11.7 -25 0 1 602.9,337.1 L586.3,347.4 Z"/>
<path class="m" style="stroke-width:1.6" d="M584.8,321.0 A6.9,11.7 -25 0 1 594.6,342.3"/>
<path class="m" style="stroke-width:1.6" d="M585.8,320.4 A6.9,11.7 -25 0 1 595.6,341.6"/>
<ellipse class="f" cx="581.4" cy="336.8" rx="6.9" ry="11.7" transform="rotate(-25 581.4 336.8)"/>
<ellipse class="m" cx="581.9" cy="337.1" rx="4.3" ry="7.6" transform="rotate(-25 581.9 337.1)" style="stroke-width:1.6"/>
<path class="f" d="M289.3,769.0 L303.9,762.5 A4.5,12.0 -25 0 1 314.1,784.1 L299.5,790.6 Z"/>
<path class="m" style="stroke-width:1.6" d="M295.2,766.4 A4.5,12.0 -25 0 1 305.3,788.0"/>
<path class="m" style="stroke-width:1.6" d="M300.3,764.1 A4.5,12.0 -25 0 1 310.4,785.8"/>
<ellipse class="f" cx="294.4" cy="779.8" rx="4.5" ry="12.0" transform="rotate(-25 294.4 779.8)"/>
<ellipse class="m" cx="294.9" cy="780.1" rx="2.8" ry="7.8" transform="rotate(-25 294.9 780.1)" style="stroke-width:1.6"/>
<path class="f" d="M196.7,820.9 L207.9,816.9 A4.5,12.0 -25 0 1 218.1,838.5 L206.9,842.5 Z"/>
<path class="m" style="stroke-width:1.6" d="M201.2,819.3 A4.5,12.0 -25 0 1 211.3,840.9"/>
<path class="m" style="stroke-width:1.6" d="M205.1,817.9 A4.5,12.0 -25 0 1 215.3,839.5"/>
<ellipse class="f" cx="201.8" cy="831.7" rx="4.5" ry="12.0" transform="rotate(-25 201.8 831.7)"/>
<ellipse class="m" cx="202.3" cy="832.0" rx="2.8" ry="7.8" transform="rotate(-25 202.3 832.0)" style="stroke-width:1.6"/>
<path class="f" d="M302.3,864.4 L315.3,857.0 A4.5,12.0 -25 0 1 325.5,878.6 L312.5,886.0 Z"/>
<path class="m" style="stroke-width:1.6" d="M307.5,861.4 A4.5,12.0 -25 0 1 317.7,883.1"/>
<path class="m" style="stroke-width:1.6" d="M312.1,858.8 A4.5,12.0 -25 0 1 322.2,880.5"/>
<ellipse class="f" cx="307.4" cy="875.2" rx="4.5" ry="12.0" transform="rotate(-25 307.4 875.2)"/>
<ellipse class="m" cx="307.9" cy="875.5" rx="2.8" ry="7.8" transform="rotate(-25 307.9 875.5)" style="stroke-width:1.6"/>
<path class="f" d="M204.9,917.6 L216.9,910.5 A4.5,12.0 -25 0 1 227.1,932.1 L215.1,939.2 Z"/>
<path class="m" style="stroke-width:1.6" d="M209.7,914.7 A4.5,12.0 -25 0 1 219.9,936.4"/>
<path class="m" style="stroke-width:1.6" d="M213.9,912.2 A4.5,12.0 -25 0 1 224.1,933.9"/>
<ellipse class="f" cx="210.0" cy="928.4" rx="4.5" ry="12.0" transform="rotate(-25 210.0 928.4)"/>
<ellipse class="m" cx="210.5" cy="928.7" rx="2.8" ry="7.8" transform="rotate(-25 210.5 928.7)" style="stroke-width:1.6"/>
</g>

<g id="lines">
<!-- mid group leaders -->
<path class="t" d="M398.7,304.6 L415,314.2 M413.1,294.1 L423.6,308.4 M431.3,284.5 L434.2,307.5 M431.3,284.5 L448.6,297.9 M447.6,274 L456.2,291.2 M463.9,267.2 L467.7,286.4 M459.1,356.3 L463.9,376.5 M426.5,366.9 L431.3,382.2 M409.3,376.5 L419.8,391.8 M392,389.9 L404.5,401.4"/>
<!-- mid bracket -->
<path class="t" d="M416.9,328.6 L406.4,334.3 L426.5,346.8 L505.1,302.7 L484,290.2 L477.3,294.1 M462,326.6 L504.1,345.8 M440.9,386 L452.4,380.3 M492.6,372.6 L508,364"/>
<!-- link 3/10/8 leaders -->
<path class="t" d="M370.5,465.9 L382,479.3 M321.6,491.7 L323.5,506.1 M351.3,509 L321.6,524.3 M456.2,542 L463.9,558.3 M433.2,586.1 L417.9,594.7 M352.3,598.1 L363.8,599 M493.5,482 L517,487"/>
<!-- link 4 leaders -->
<path class="t" d="M215.9,549.1 L228.8,554.5 M215.9,549.1 L226.6,561 M243.9,598.7 L229.9,591.1 M229.9,632.1 L213.7,623.5 M248.2,529.7 L252.5,544.8 M225.6,578.2 L256.8,563.1 M342,617 L336.6,636.4 M349.5,663.3 L332.3,661.2 M349.5,663.3 L331.2,668.7"/>
<!-- bracket lines center -->
<path class="t" d="M271.9,555.6 L296.7,541.6 L296.7,702 M310.7,532.9 L324.7,525.4 M310.1,532 L310.1,689.5 L350.6,670.2 L360.2,741.9"/>
<path class="t" d="M350.6,631.7 L374,620.7 L487,685.4 L368.5,752.9 L452.5,792.8"/>
<path class="t" d="M386.4,612.4 L499.4,678.5 L520,668.9"/>
<path class="t" d="M387.2,613.9 L405,602.9 M410.7,601 L434.2,585.5"/>
<path class="t" d="M350.6,633.2 L370,623.5"/>
<!-- left group leaders -->
<path class="t" d="M90.2,739.6 L106.5,753.8 M106.5,730.4 L117.7,741.6 M120.7,719.2 L126.8,734.5 M140,709 L141,733.5 M140,709 L153.3,727.4 M155.3,696.8 L163.5,715.1 M170.6,686.6 L173.6,710 M182.8,678.5 L187.9,709"/>
<path class="t" d="M100.4,768.1 L131.8,786.1 L183.8,759.3 L186.3,756.8 L234.7,728.4 L203.2,710.1 L195,715 M100.4,768.1 L112,761"/>
<path class="t" d="M125.9,798.7 L296.8,700.4 M191.9,762 L266,798.4 M193.5,760 L268,796.5 M235.9,775.8 L266,760.7 L267.3,775.8 M232.1,751.9 L243.4,744.3"/>
<!-- right-mid group leaders -->
<path class="t" d="M319.2,725.8 L323.3,750.2 M332.5,720.7 L333.5,739 M346.7,710.5 L345.7,733 M303,787.9 L304,802.1 M317.2,767.5 L321,765.5"/>
<path class="t" d="M351.8,680 L361,741 M368,752.3 L420,722.8 M368,752.3 L420,783.8"/>
<!-- left-bottom group leaders -->
<path class="t" d="M141.7,830.7 L148.9,845 M157,822.6 L160,840.9 M171.3,816.5 L172.3,837.8 M208.9,860.2 L208.9,844 M155,893.8 L167.2,887.7 M148.9,928.4 L158,939.6 M176.3,922.3 L181.4,934.5 M208.9,912.1 L208.9,922 M180.4,804.6 L189,799.5"/>
<path class="t" d="M125.9,798.7 L136,870.9 L154.5,861.7 M180.4,804.6 L202.8,961.9 L334.6,887.6 L313.7,732 L203,790.9 M180.5,891.4 L225,867.2 M149,954.5 L193.5,976.7 L350.8,893.8 L460,944 M367,840 L379.5,832.5 L416.9,854.5 L358.4,888 L460,938"/>
<path class="t" d="M148.9,865.3 L201.8,831.7 M222.1,819.5 L230.3,814.4 M150.9,963 L210,928.4 M228.3,916.2 L236,913 M320.4,867.8 L367,840 M339.7,825.8 L345.1,842 M357.7,807.8 L364.9,824"/>
<path class="t" d="M225,867.2 L261,888" style="stroke-dasharray:3,2"/>
<!-- left-center group leaders -->
<path class="t" d="M499.2,736.6 L501.3,752.8 M470,745.3 L484,764.7 M458.2,751.7 L464.7,766.8 M439.9,761.4 L448.5,774.4 M481.9,805.6 L497,798 M428,834.7 L435.6,842.3 M527.2,838 L516.4,827.2 M499.2,854.1 L490.5,843.3 M480.8,872.5 L474.4,859.5 M462.5,887.5 L459.3,876.8"/>
<path class="t" d="M460.4,700 L400,734.5 M505.6,759.3 L537,742 M500,795 L534.7,773.3 M464.7,848.7 L527.2,810 M469,857.4 L466.8,870.3 L459.3,874.6"/>
<path class="t" d="M432.3,863 L432.3,923.5 L460,908.1 M400,844.4 L416.2,855.2"/>
<!-- right group leaders -->
<path class="t" d="M627.3,668 L627.3,677.4 M643.1,652.2 L643.1,668 M686.2,678.8 L680,670 M670.4,686 L667,677 M692,733.4 L703.5,739.2 M690.5,750 L696.3,755 M665.4,749.2 L666.1,759.3 M646,750.7 L646.7,770.8 M620.1,766.5 L621.6,779.4"/>
<path class="t" d="M625.2,613.5 L694.2,651.6 L683.9,657.5 M689.8,711.8 L725,692.7 L725,757.3 L516.4,876 M673.6,738.2 L675.1,752.9 L682.4,749.9 M609.3,700.4 L659,670.9 M596,763.6 L643.1,740.6"/>
<!-- dashed boom line -->
<path class="t" d="M519.2,665.6 L580.5,635 L624.5,612" style="stroke-dasharray:4,3"/>
<path class="t" d="M370,700 L519.2,665.6" style="stroke:none"/>
<!-- 9 / 5 -->
<path class="t" d="M593.4,875.5 L603,888.7 M662.9,925.8 L671.3,939 M532.3,898.3 L500,913.8 M603,948.6 L564.7,970"/>
<path class="t" d="M516.8,875.5 L598.2,830 M500,880.3 L507.2,882.7"/>
<!-- bucket leaders -->
<path class="t" d="M412,940.7 L433.5,944.3 M486.2,967.1 L479,969.5 M501.3,1047.7 L487.9,1046.8 M501.3,1047.7 L487.9,1051.6 M495.6,1053.5 L516.6,1075.5"/>
<path class="t" d="M732.6,266.4 L744.6,279.9 M705.7,282.9 L713.2,296.3 M571,359.2 L577,375.7 M600.9,342.8 L608.4,360.7 M681.7,278.4 L696,272 M603.9,324.8 L620.4,315.8"/>
</g>

<g id="links">
<!-- pin 10 -->
<path class="f" d="M349.4,501.3 L408.8,468.7 L406.9,464.9 C409,463 412,463 413.5,465 L425,480.5 C428,484 429,487 426,489 C424,490 422,489 420,486 L416.5,482.2 L353.2,514.7 Z"/>
<path class="m" d="M408.8,468.7 C412,470 415,476 416.5,482.2"/>
<ellipse class="f" cx="352.3" cy="508" rx="4" ry="7.6" transform="rotate(-25 352.3 508)"/>
<path class="m" d="M355,503 C357,504 357,506 356,508"/>
<circle cx="399" cy="480" r="0.8" fill="#333"/>
<!-- link 3 -->
<path class="f" d="M310.1,520.5 C308,512 311,507 318,507 L330,509 C335,511 338,517 339,525 L408.8,587.5 C414,591 418,596 418.4,604.8 C418,611 413,614 405,613.4 C401,613 399,610 396,605 L326.4,539.6 C320,535 312,530 310.1,520.5 Z"/>
<path class="m" d="M313,511 C318,509 325,510 330,514 C334,519 335,525 337,530 L404,592 C409,596 412,600 413,605"/>
<ellipse class="o" cx="321.6" cy="526.2" rx="4.5" ry="6.8" transform="rotate(-25 321.6 526.2)"/>
<path class="m" d="M320.5,521 C323,522 324,526 323,530"/>
<ellipse class="o" cx="405" cy="602.9" rx="4.5" ry="6.5" transform="rotate(-25 405 602.9)"/>
<path class="m" d="M338,532 L346,537"/>
<!-- pin 8 -->
<path class="f" d="M431.3,579.4 L496.5,542 C502,539 506,545 505,550 C504.5,553 504,554 504.1,554.5 L437.1,591.9 Z"/>
<ellipse class="f" cx="434.2" cy="585.5" rx="4" ry="7" transform="rotate(-25 434.2 585.5)"/>
<path class="m" d="M438.5,579 C441,581 442,586 440,590"/>
<circle class="m" cx="441" cy="578.5" r="1"/>
<!-- link 4 -->
<path class="f" d="M242.8,552.3 C243,547 248,545 255,545.9 C262,546 267,549 269.8,557.7 L340.9,627.8 L328,632.1 L252.5,571.7 C247,568 243,560 242.8,552.3 Z"/>
<path class="m" d="M248.2,550.2 C255,548 262,550 266,555 L271.9,563.1 L336,622"/>
<ellipse class="o" cx="254.7" cy="562" rx="4.5" ry="6" transform="rotate(-25 254.7 562)"/>
<!-- boss at link 4 end -->
<path class="f" d="M326,632 C330,625 340,622 346,626 C352,630 353,640 348,646 C344,650 336,651 332,648 Z"/>
<ellipse class="f" cx="333.3" cy="641.8" rx="7.5" ry="10" transform="rotate(-25 333.3 641.8)"/>
<ellipse class="o" cx="333" cy="642" rx="4.3" ry="6.5" transform="rotate(-25 333 642)"/>
<!-- link 4 dashed hidden -->
<path class="t" d="M296,591 L297,618 M310,600 L310.5,630" style="stroke-dasharray:3,2"/>
<!-- 31 -->
<path class="f" d="M216,574 C220,570 230,570 234,573 C238,577 237,588 233,592 C229,595 221,594 219,590 Z"/>
<ellipse class="f" cx="220.2" cy="582.5" rx="6" ry="10" transform="rotate(-25 220.2 582.5)"/>
<ellipse class="o" cx="220.5" cy="583" rx="3.5" ry="6.5" transform="rotate(-25 220.5 583)"/>
<!-- 20 nuts -->
<circle style="fill:#222;stroke:#111;stroke-width:1" cx="232" cy="554.5" r="2.6"/>
<circle style="fill:#222;stroke:#111;stroke-width:1" cx="229.9" cy="561" r="2.6"/>
<circle style="fill:#222;stroke:#111;stroke-width:1" cx="330.1" cy="660.1" r="2.6"/>
<circle style="fill:#222;stroke:#111;stroke-width:1" cx="328" cy="667.7" r="2.6"/>
<!-- 22 bolt -->
<path d="M210.5,621.3 L218,599.8" style="stroke:#151515;stroke-width:3.4;stroke-linecap:round"/>
<path d="M211.5,618 L217.5,601" style="stroke:#f8f8f8;stroke-width:1;stroke-dasharray:1.2,1.2"/>
<circle cx="210.3" cy="621.5" r="2.2" fill="#151515"/>
<!-- 21 bolt -->
<path d="M349.5,596.5 L342,617" style="stroke:#151515;stroke-width:3.4;stroke-linecap:round"/>
<path d="M347.5,601 L343,614" style="stroke:#f8f8f8;stroke-width:1;stroke-dasharray:1.2,1.2"/>
<circle class="f" style="stroke-width:1.4" cx="349.7" cy="596" r="2.2"/>
</g>

<g id="mid">
<!-- boom lobe bracket for pin 7 -->
<path class="f" style="stroke-width:1.6" d="M517.5,294.1 C512,305 507,318 504.1,330.5 C501,338 498,343 497.4,347.7 C495,356 494,366 496.5,372.6 C497.5,376 499,377 502.2,378.4 L516.6,384.1"/>
<ellipse class="o" cx="507.2" cy="364.4" rx="5" ry="7.5" transform="rotate(-25 507.2 364.4)"/>
<path class="m" d="M505,358 C509,359 510,365 508,370"/>
<path class="m" style="stroke-width:1.6" d="M503.3,344 L511,341 L513.3,348 L505.5,351.1 Z M506,345 L507,348 M509,343.5 L510,347"/>
<path class="t" d="M500,350 L520,357 M502,355 L520,361" style="stroke-dasharray:2,1.5"/>
<path style="fill:#222;stroke:#222;stroke-width:1.4;stroke-linejoin:round" d="M520,356 L524.5,356.5 L526,358.5 L523,360.5 L519,360 Z"/>
<!-- pin 7 -->
<path class="f" d="M455,379.5 L485,367.8 C490,366 494,372 493,379 C492.5,382 492,383.5 491.7,384.1 L457,401 Z"/>
<ellipse class="m" cx="487.8" cy="375.5" rx="4" ry="8.5" transform="rotate(-25 487.8 375.5)" style="stroke-width:1.6"/>
<path class="m" d="M472,394 L473,391 M477,391 L478,388.5 M482,388.5 L483,386"/>
<path class="f" d="M444.7,388 C444,381 447,377 450.5,377.4 L453,374 C454,372 456,373 456,375 L455.5,377 L460,384.1 L459.1,401.4 C458,405 455,406 452.4,405.2 C448,404 445,400 444.7,397.5 Z"/>
<path class="m" d="M449,374 C448,376 449,379 451,378"/>
<ellipse class="o" cx="452.4" cy="393.7" rx="4.5" ry="6" transform="rotate(-25 452.4 393.7)"/>
<circle class="m" cx="452.6" cy="394" r="1.6"/>
<!-- 16 17 18 mid -->
<ellipse class="f" cx="434.6" cy="388.3" rx="6.2" ry="8" transform="rotate(-25 434.6 388.3)"/>
<circle cx="434.8" cy="388.8" r="1.2" fill="#333"/>
<ellipse cx="423.1" cy="395.6" rx="3.3" ry="4.2" transform="rotate(-25 423.1 395.6)" style="fill:#f8f8f8;stroke:#111;stroke-width:2.6"/>
<path d="M412,402.5 L418.5,399" style="stroke:#151515;stroke-width:5;stroke-linecap:butt"/>
<path d="M412.5,401.5 L418,398.6" style="stroke:#f8f8f8;stroke-width:2.6;stroke-dasharray:1,1"/>
<path class="f" style="stroke-width:1.6" d="M402,405 C404,401 409,400.5 411.5,403 C413.5,406 412,410.5 408,411.5 C404,412 401.5,409 402,405 Z"/>
<path class="m" d="M405.5,403 L408,410.5"/>
</g>

<g id="link2">
<!-- arms -->
<path class="f" d="M224,828.9 L241.7,827 L250,903 L230.6,897.4 Z"/>
<path class="m" d="M238.5,829 L247,901"/>
<path class="f" d="M275.9,810.4 L283.3,806.7 L294.4,878.9 L290.7,877 Z"/>
<path class="m" d="M279.5,808.5 L292.5,878"/>
<!-- web -->
<path class="f" d="M241.7,827 L253.1,821.5 C254,830 257,838 264,840.7 C270,841 274,836 276.5,823.9 L276,810 L290.7,877 L250,903 Z" style="stroke-width:1.6"/>
<path class="m" d="M245,829 C250,836 256,843 264,845 C272,845 277,838 279,828"/>
<ellipse class="o" cx="260.2" cy="860.4" rx="5.2" ry="16.5" transform="rotate(-8 260.2 860.4)" style="stroke-width:1.8"/>
<ellipse class="m" cx="260.6" cy="860.4" rx="3.5" ry="14" transform="rotate(-8 260.6 860.4)"/>
<path class="t" d="M224,867.8 L261,888" style="stroke-dasharray:3,2"/>
<!-- bottom tube -->
<path class="f" d="M237,897.4 L287,877 C292,875 297,880 298,888 C299,895 298.5,899 298,901 L246.3,927 Z"/>
<path class="m" d="M287,877 C291,881 293,890 292,899"/>
<path class="m" style="stroke-width:1.6" d="M256,889 C260,894 262,906 260,919 M274,882 C278,886 280,898 279,910 M277,881 C281,885 283,897 282,909"/>
<ellipse class="f" cx="238.9" cy="913.1" rx="10.5" ry="16" transform="rotate(-25 238.9 913.1)"/>
<ellipse class="o" cx="239.3" cy="913.3" rx="6.3" ry="10.3" transform="rotate(-25 239.3 913.3)"/>
<path class="m" d="M241,905 C244,908 245,914 243,920"/>
<!-- top-right boss -->
<path class="f" d="M258,786 C262,779 270,777 277,777.2 C283,779 288,786 289,794 C289,801 284,807 277,809.5 L268.7,813.1 Z"/>
<ellipse class="f" cx="262.7" cy="799.7" rx="9.5" ry="14" transform="rotate(-25 262.7 799.7)"/>
<ellipse class="o" cx="262.5" cy="799.5" rx="6" ry="10.3" transform="rotate(-25 262.5 799.5)"/>
<path class="f" style="stroke-width:1.4" d="M265,776 L269,774 L273,776 L273,780 L269,782 L265,780 Z"/>
<!-- top-left boss -->
<path class="f" d="M221,806 C228,800 235,797 240,797 C249,798 255,806 256,815.5 C256,822 251,827 245,829 L237.5,831.1 Z"/>
<ellipse class="f" cx="229.4" cy="817.3" rx="9.5" ry="14.5" transform="rotate(-25 229.4 817.3)"/>
<ellipse class="o" cx="229.8" cy="817" rx="6.2" ry="10.5" transform="rotate(-25 229.8 817)"/>
<path class="f" style="stroke-width:1.4" d="M233,794.5 L237,792.5 L241,794.5 L241,798.5 L237,800.5 L233,798.5 Z"/>
<!-- lines through -->
<path class="t" d="M222,819.5 L229.8,817"/>
</g>

<g id="pins">
<path class="f" d="M532.1,887.7 L610.7,843.4 A5.0,9.0 -25 0 1 618.3,859.8 L539.7,904.1 Z"/>
<path class="m" style="stroke-width:1.6" d="M536.8,885.1 A5.0,9.0 -25 0 1 544.4,901.4"/>
<ellipse class="f" cx="535.9" cy="895.9" rx="5.0" ry="9.0" transform="rotate(-25 535.9 895.9)"/>
<path class="f" d="M601.3,937.3 L687.0,890.6 A5.2,9.8 -25 0 1 695.2,908.4 L609.5,955.1 Z"/>
<path class="m" style="stroke-width:1.6" d="M606.4,934.5 A5.2,9.8 -25 0 1 614.7,952.3"/>
<ellipse class="f" cx="605.4" cy="946.2" rx="5.2" ry="9.8" transform="rotate(-25 605.4 946.2)"/>
<circle class="m" cx="541" cy="887.5" r="1.4"/><circle class="m" cx="611" cy="937.5" r="1.4"/>
<path class="k" style="stroke-width:3.0" d="M357.4,842.4 L357.0,841.4 L356.6,840.4 L356.3,839.4 L356.1,838.4 L355.9,837.4 L355.8,836.4 L355.7,835.4 L355.7,834.5 L355.7,833.5 L355.8,832.6 L356.0,831.7 L356.2,830.8 L356.5,829.9 L356.8,829.1 L357.2,828.4 L357.6,827.7 L358.1,827.0 L358.6,826.4 L359.1,825.9 L359.7,825.4 L360.4,825.0 L361.0,824.6 L361.7,824.4 L362.5,824.1 L363.2,824.0 L364.0,823.9 L364.8,823.9 L365.6,824.0 L366.4,824.1 L367.2,824.3 L368.0,824.6 L368.8,824.9 L369.6,825.3 L370.4,825.8 L371.2,826.3 L372.0,826.9 L372.7,827.5 L373.4,828.2 L374.1,828.9 L374.8,829.7 L375.4,830.6 L376.0,831.4 L376.5,832.3 L377.0,833.2 L377.4,834.2 L377.8,835.2 L378.2,836.2 L378.5,837.2 L378.7,838.2 L378.9,839.2 L379.0,840.2 L379.1,841.2 L379.1,842.1 L379.1,843.1 L379.0,844.0 L378.8,844.9 L378.6,845.8 L378.3,846.7 L378.0,847.5 L377.6,848.2 L377.2,848.9 L376.7,849.6 L376.2,850.2 L375.7,850.7 L375.1,851.2 L374.4,851.6 L373.8,852.0 L373.1,852.2 L372.3,852.5 L371.6,852.6 L370.8,852.7 L370.0,852.7 L369.2,852.6 L368.4,852.5 L367.6,852.3 L366.8,852.0 L366.0,851.7 L365.2,851.3 L364.4,850.8 L363.6,850.3 L362.8,849.7 L362.1,849.1 L361.4,848.4 L360.7,847.7 L360.0,846.9 L359.4,846.0 L358.8,845.2"/>
<path class="k" style="stroke-width:2.6" d="M340.5,853.2 L340.3,852.6 L340.1,851.9 L339.9,851.2 L339.8,850.5 L339.7,849.8 L339.7,849.1 L339.7,848.5 L339.8,847.8 L339.9,847.1 L340.0,846.5 L340.2,845.8 L340.5,845.2 L340.7,844.6 L341.0,844.1 L341.4,843.6 L341.8,843.1 L342.2,842.6 L342.6,842.2 L343.1,841.8 L343.6,841.4 L344.1,841.1 L344.7,840.9 L345.3,840.7 L345.9,840.5 L346.5,840.4 L347.1,840.3 L347.7,840.3 L348.3,840.3 L348.9,840.4 L349.6,840.5 L350.2,840.7 L350.8,840.9 L351.4,841.2 L352.0,841.5 L352.6,841.8 L353.1,842.2 L353.7,842.6 L354.2,843.1 L354.7,843.6 L355.1,844.1 L355.6,844.7 L355.9,845.3 L356.3,845.9 L356.6,846.5 L356.9,847.2 L357.1,847.8 L357.3,848.5 L357.5,849.2 L357.6,849.9 L357.7,850.6 L357.7,851.3 L357.7,851.9 L357.6,852.6 L357.5,853.3 L357.4,853.9 L357.2,854.6 L356.9,855.2 L356.7,855.8 L356.4,856.3 L356.0,856.8 L355.6,857.3 L355.2,857.8 L354.8,858.2 L354.3,858.6 L353.8,859.0 L353.3,859.3 L352.7,859.5 L352.1,859.7 L351.5,859.9 L350.9,860.0 L350.3,860.1 L349.7,860.1 L349.1,860.1 L348.5,860.0 L347.8,859.9 L347.2,859.7 L346.6,859.5 L346.0,859.2 L345.4,858.9 L344.8,858.6 L344.3,858.2 L343.7,857.8 L343.2,857.3 L342.7,856.8 L342.3,856.3 L341.8,855.7"/>
</g>

<g id="bucket">
<!-- bucket body -->
<path class="m" style="stroke-width:1.6" d="M296.8,1080 L296.8,1062 C297,1045 302,1030 311,1022 C318,1017 327,1015 352,1011.5 L385.4,1007.9 C389,1008 391,1009 393,1012 C400,1022 410,1038 418.9,1051 C421,1057 422,1068 422.5,1080"/>
<path class="m" style="stroke-width:1" d="M298.8,1080 L298.8,1062 C299,1046 304,1032 312.5,1024 C319.5,1019 327.5,1017 352,1013.5 L385.2,1010 C388.5,1010 390.5,1011 392,1013.5 C399,1023.5 409,1039.5 417,1052 C419,1058 420,1068 420.5,1080"/>
<path class="m" style="stroke-width:1.6" d="M313.5,1080 L313.5,1072 C316,1060 320,1050 325,1046 C332,1042 345,1040 354.3,1040.2 C362,1041 375,1045 385.4,1053.4 C387,1056 387.8,1060 387.8,1062"/>
<path class="t" d="M387.8,1011 L387.8,1080" style="stroke-dasharray:4,2.5"/>
<path class="m" d="M296.8,1062 L313.5,1072"/>
<!-- top surface -->
<path class="m" d="M321.4,1016.8 L365.5,990 M375.2,1008 L409,990 M327.9,1015.1 L321,1017 M399.8,992.3 L435.7,982.8 C441,982 446,984 449,988 C456,996 462,1005 466,1014 L472,1032"/>
<path class="m" d="M349.5,999.5 L354.3,993.5 L375.8,991.1 L371,997 Z"/>
<path class="m" d="M371,974.4 C371,980 372,986 372.2,990"/>
<ellipse class="m" cx="378.2" cy="979.2" rx="2" ry="3"/>
<path class="t" d="M352,1013 L374,1006" style="stroke-dasharray:3,2;stroke-width:1.6"/>
<!-- long hinge bar -->
<path class="m" d="M421.6,1065.3 L467,1038 M421.6,1070 L469.5,1043 M499.4,1013.2 L588.5,965.3 M501.3,1017 L588.5,969.5 M503.2,1022.8 L588.5,976.6 M503.5,1027 L560,996"/>
<path class="t" d="M467,1038 L499.4,1020 M469.5,1043 L501.3,1025" style="stroke-dasharray:4,3;stroke-width:1.3"/>
<!-- right curved rod -->
<path class="m" d="M553,913 C568,912 578,920 583,933 C588,945 588.5,960 587.5,975 C587,990 584,1003 581.8,1013.2 C579,1025 579,1040 581.8,1049.6 C583,1056 586,1062 587.5,1067"/>
<path class="m" d="M554,918 C565,917 573,924 578.5,935 C583,946 584,960 583.5,975 C583,990 580,1003 578,1013 C575,1025 575,1040 578,1050 C579,1056 582,1062 583.5,1067"/>
<path class="t" d="M495.8,921.6 L553.3,913.2 M500.6,927.5 L555.7,918" style="stroke-dasharray:4,3;stroke-width:1.2"/>
<!-- lower link plate -->
<path class="f" style="stroke-width:1.6" d="M440,967 C455,975 470,985 486,998 C495,1003 501,1012 501.5,1024 C501,1033 496,1038 488,1040 L470,1040 L465,1036 L465,1010 Z"/>
<path class="t" d="M445,977 L478,996" style="stroke-dasharray:4,3;stroke-width:1.2"/>
<path class="m" d="M440,985 L468.7,1013 L468.7,1030"/>
<!-- upper link plate -->
<path class="f" style="stroke-width:1.8" d="M437,950 C431,945 433,936 441,932.5 L453,927 C459,918 464,911 472,909 C481,907 489,911 495,919 L549,966 L555,971 C561,976 563,985 562.6,994 C561,1000 558,1003 555,1003.6 L529,986 L492,950 C482,955 466,954 455,948.5 L445,951 C441,952 438,951 437,950 Z"/>
<path class="m" d="M430,952 L497.5,951.9 C503,953 507,958 512.8,965.3 L530,986.4"/>
<path class="t" d="M510.5,937 L531,953.7" style="stroke-dasharray:4,3;stroke-width:1.2"/>
<path class="t" d="M420,925.2 L448.5,933.6"/>
<!-- bosses -->
<path class="k" style="stroke-width:2.4" d="M471.8,916.0 A10.5,15 -25 0 1 484.4,943.2"/>
<ellipse class="f" cx="475.3" cy="931" rx="10.5" ry="15" transform="rotate(-25 475.3 931)"/>
<ellipse class="o" cx="475" cy="931.5" rx="6" ry="9" transform="rotate(-25 475 931.5)"/>
<path class="k" style="stroke-width:2.4" d="M533.7,968.6 A10.5,16 -25 0 1 547.3,997.6"/>
<ellipse class="f" cx="537.7" cy="984.5" rx="10.5" ry="16" transform="rotate(-25 537.7 984.5)"/>
<ellipse class="o" cx="537.5" cy="985" rx="6.5" ry="10" transform="rotate(-25 537.5 985)"/>
<ellipse class="f" cx="478.3" cy="1020" rx="9" ry="13.5" transform="rotate(-25 478.3 1020)"/>
<ellipse class="o" cx="478.5" cy="1020.5" rx="6" ry="9.5" transform="rotate(-25 478.5 1020.5)"/>
<ellipse class="f" cx="414.4" cy="968.3" rx="9" ry="12.5" transform="rotate(-25 414.4 968.3)"/>
<ellipse class="o" cx="414.4" cy="968.5" rx="5.5" ry="8.5" transform="rotate(-25 414.4 968.5)"/>
<!-- bolts 22 -->
<path d="M438.3,944.3 L422.8,958.7" style="stroke:#151515;stroke-width:3.4;stroke-linecap:round"/>
<path d="M436,947 L425,957" style="stroke:#f8f8f8;stroke-width:1;stroke-dasharray:1.2,1.2"/>
<circle class="f" style="stroke-width:1.8" cx="438.8" cy="943.8" r="2.8"/>
<path d="M475.4,969.5 L477.8,998.2" style="stroke:#151515;stroke-width:3.4;stroke-linecap:round"/>
<path d="M476,974 L477.5,995" style="stroke:#f8f8f8;stroke-width:1;stroke-dasharray:1.2,1.2"/>
<circle class="f" style="stroke-width:1.4" cx="475.3" cy="969" r="2.2"/>
<!-- nuts 20 -->
<circle style="fill:#222;stroke:#111;stroke-width:1" cx="483.8" cy="1046.1" r="2.6"/>
<circle style="fill:#222;stroke:#111;stroke-width:1" cx="483.8" cy="1052.1" r="2.6"/>
<circle style="fill:#222;stroke:#111;stroke-width:1" cx="402.4" cy="976.6" r="2.6"/>
<circle style="fill:#222;stroke:#111;stroke-width:1" cx="400" cy="981.4" r="2.6"/>
<path class="t" d="M393,968 L402.4,976.6 M393,968 L400,981.4 M387,966 L392,960"/>
<!-- vertical bracket lines -->
<path class="t" d="M507,884 L507,1001.7 M516.6,876 L516.6,997 L529,997"/>
</g>

<g id="small">
<!-- 30,23 clips -->
<g transform="translate(500.2,795.9) rotate(-30)">
<path class="f" style="stroke-width:1.6" d="M-5,-2 C-5,-5 -1,-5 1,-4 L5,-2 C6,0 5,3 3,3 L-3,3 C-5,3 -6,1 -5,-2 Z"/>
<path class="m" d="M-2,-3 L-1,2 M1,-2 L2,2"/>
</g>
<g transform="translate(170.8,886.8) rotate(30)">
<path class="f" style="stroke-width:1.6" d="M-5,-2 C-5,-5 -1,-5 1,-4 L5,-2 C6,0 5,3 3,3 L-3,3 C-5,3 -6,1 -5,-2 Z"/>
<path class="m" d="M-2,-3 L-1,2 M1,-2 L2,2"/>
</g>
<g transform="translate(231,753) rotate(75)">
<path class="f" style="stroke-width:1.6" d="M-5,-2 C-5,-5 -1,-5 1,-4 L5,-2 C6,0 5,3 3,3 L-3,3 C-5,3 -6,1 -5,-2 Z"/>
<path class="m" d="M-2,-3 L-1,2 M1,-2 L2,2"/>
</g>
<path class="t" d="M233,760 L236.5,795 M174,886 L181.4,889.8"/>
<!-- 29 bolts -->
<path d="M689.1,745.6 L681.2,750.7" style="stroke:#151515;stroke-width:3.6;stroke-linecap:round"/>
<ellipse class="f" style="stroke-width:1.5" cx="689.5" cy="745.3" rx="2.2" ry="3" transform="rotate(-25 689.5 745.3)"/>
<path d="M464.5,871.5 L457,877" style="stroke:#151515;stroke-width:3.6;stroke-linecap:round"/>
<ellipse class="f" style="stroke-width:1.5" cx="464.8" cy="871.2" rx="2.2" ry="3" transform="rotate(-25 464.8 871.2)"/>
<!-- boom left-plate small parts -->
<path style="fill:#f8f8f8;stroke:#151515;stroke-width:1.6;stroke-linejoin:round" d="M573.5,164.5 L579,162 L580.5,166 L575,168.5 Z"/>
<path d="M575.5,165 L578.5,163.8" style="stroke:#151515;stroke-width:1"/>
<circle cx="526.3" cy="252.1" r="2.4" fill="#222"/>
<circle cx="559.9" cy="278.4" r="2.4" fill="#222"/>
<circle cx="532.2" cy="325.6" r="2.4" fill="#222"/>
<circle cx="522.3" cy="403.8" r="2.6" fill="#222"/>
<path class="m" d="M516,416 L513,418 L513,422 L516,424"/>
<circle cx="522.2" cy="474.2" r="2.6" fill="#222"/>
<path style="fill:#222;stroke:#222;stroke-width:1.2;stroke-linejoin:round" d="M527.5,492 L531,489.5 L534.5,492 L531,494.5 Z"/>
<path class="f" style="stroke-width:1.4" d="M511,512 L516,511 L516,520 L511,521 Z"/>
<path class="f" style="stroke-width:1.4" d="M535,558 L540,557 L542,559 L542,580 L537,582 L535,580 Z"/>
<path class="m" d="M537,563 L538,563 M537,568 L538,568 M537,573 L538,573"/>
<path class="f" style="stroke-width:1.4" d="M512.7,570.8 L516,570 L516.6,578.4 L513,579 Z"/>
<path class="f" style="stroke-width:1.4" d="M530,612 L537,610 L539,612 L539,621 L532,623 L530,621 Z"/>
<path class="f" style="stroke-width:1.4" d="M522,638 L526,636 L538,642 L538,649 L534,651 L522,645 Z"/>
<!-- crease lines on boom -->
<path d="M521.5,251.5 L572.5,319" style="fill:none;stroke:#444;stroke-width:2.6;stroke-linecap:butt"/>
<path d="M610.5,379.5 L625.5,397" style="fill:none;stroke:#444;stroke-width:3.2;stroke-linecap:butt"/>
</g>

<g class="lab">
<text x="518.0" y="77.3">6</text>
<text x="493.0" y="126.8">16</text>
<text x="470.0" y="139.3">17</text>
<text x="446.8" y="150.3">18</text>
<text x="561.0" y="53.3">14</text>
<text x="579.0" y="41.3">15</text>
<text x="597.5" y="32.3">12</text>
<text x="615.5" y="21.8">15</text>
<text x="637.0" y="15.3">14</text>
<text x="391.1" y="303.0">14</text>
<text x="407.9" y="291.0">15</text>
<text x="426.6" y="281.4">12</text>
<text x="443.8" y="271.8">15</text>
<text x="462.5" y="264.7">14</text>
<text x="457.7" y="353.3">7</text>
<text x="424.7" y="364.1">16</text>
<text x="406.0" y="374.8">17</text>
<text x="383.5" y="388.0">18</text>
<text x="750.0" y="291.7">13</text>
<text x="716.2" y="310.5">1A</text>
<text x="612.3" y="370.4">1A</text>
<text x="578.4" y="387.5">13</text>
<text x="366.7" y="463.5">10</text>
<text x="320.7" y="485.7">3</text>
<text x="487.8" y="484.5">1</text>
<text x="247.0" y="526.7">4</text>
<text x="452.1" y="538.2">8</text>
<text x="206.1" y="548.6">20</text>
<text x="254.7" y="604.5">31</text>
<text x="372.4" y="603.3">21</text>
<text x="238.6" y="641.7">22</text>
<text x="359.4" y="668.5">20</text>
<text x="196.0" y="799.0">2</text>
<text x="84.0" y="737.9">12</text>
<text x="100.4" y="725.7">14</text>
<text x="117.5" y="715.6">15</text>
<text x="137.0" y="707.4">12</text>
<text x="152.5" y="695.2">15</text>
<text x="166.7" y="685.0">14</text>
<text x="179.8" y="676.1">12</text>
<text x="261.2" y="742.0">30&#8201;,&#8201;23</text>
<text x="316.2" y="723.7">12</text>
<text x="331.2" y="717.6">14</text>
<text x="345.5" y="707.4">15</text>
<text x="139.0" y="827.5">15</text>
<text x="156.5" y="821.4">14</text>
<text x="171.6" y="813.3">12</text>
<text x="305.2" y="811.3">2A</text>
<text x="354.8" y="804.3">32</text>
<text x="336.5" y="822.6">12</text>
<text x="211.5" y="864.2">2A</text>
<text x="306.0" y="849.9">2B</text>
<text x="135.0" y="904.1">30&#8201;,&#8201;23</text>
<text x="211.5" y="903.7">2B</text>
<text x="173.6" y="913.8">12</text>
<text x="145.1" y="925.3">32</text>
<text x="628.0" y="663.6">1B</text>
<text x="642.4" y="650.7">11</text>
<text x="695.0" y="695.2">26</text>
<text x="678.3" y="701.8">25</text>
<text x="711.4" y="745.5">24</text>
<text x="698.5" y="766.2">29</text>
<text x="668.3" y="772.8">28</text>
<text x="649.0" y="781.4">12</text>
<text x="625.2" y="797.3">1C</text>
<text x="493.8" y="732.3">1B</text>
<text x="469.0" y="742.0">11</text>
<text x="452.8" y="748.5">25</text>
<text x="434.5" y="758.2">26</text>
<text x="459.3" y="817.5">30&#8201;,&#8201;23</text>
<text x="421.6" y="831.5">24</text>
<text x="532.6" y="854.1">1C</text>
<text x="505.6" y="867.1">12</text>
<text x="486.2" y="883.2">28</text>
<text x="461.4" y="897.2">29</text>
<text x="607.0" y="900.7">9</text>
<text x="675.5" y="950.6">5</text>
<text x="400.7" y="943.7">22</text>
<text x="383.5" y="964.8">20</text>
<text x="495.4" y="967.9">22</text>
<text x="513.0" y="1052.2">20</text>
<text x="352.8" y="1074.0">BUCKET</text>
</g>
</svg>
</body></html>
